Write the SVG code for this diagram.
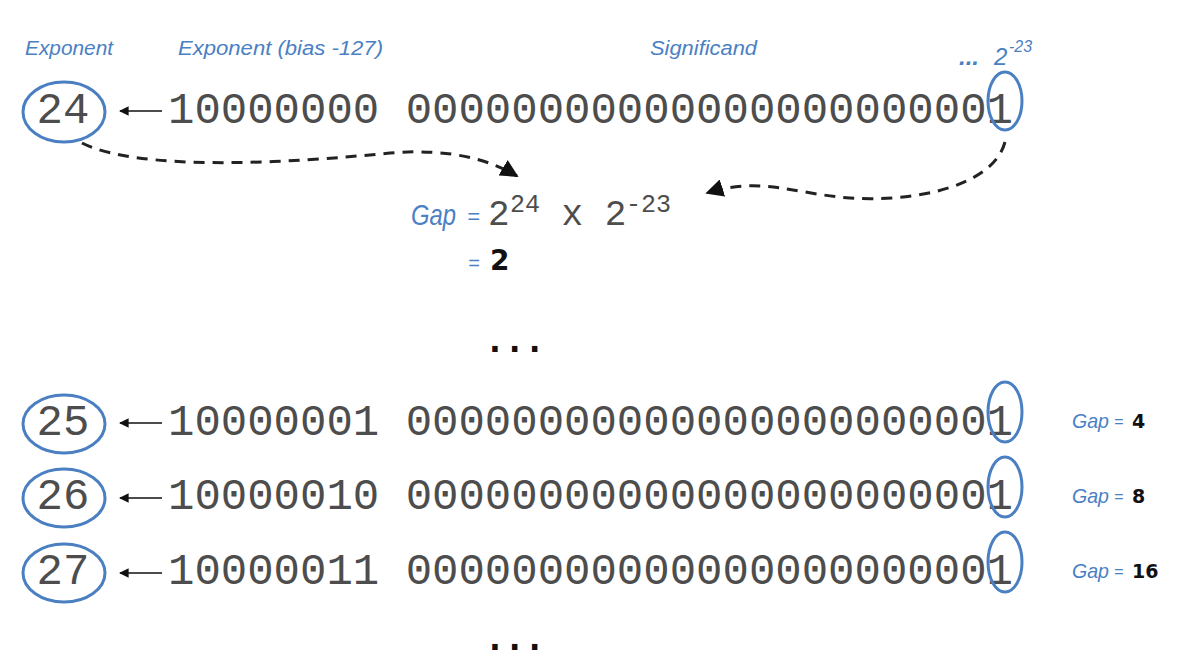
<svg xmlns="http://www.w3.org/2000/svg" width="1188" height="672" viewBox="0 0 1188 672">
<style>
.bits{font-family:"Liberation Mono","Courier New",monospace;font-size:44px;fill:#4d4d4d;}
.mono{font-family:"Liberation Mono","Courier New",monospace;fill:#4d4d4d;}
.hand{font-family:"Liberation Sans",Arial,sans-serif;font-style:italic;fill:#4a80c4;}
.num{font-family:"DejaVu Sans",Verdana,sans-serif;font-weight:bold;fill:#111;}
.dots{font-family:"DejaVu Sans Mono",monospace;font-weight:bold;font-size:33px;fill:#111;}
.ell{fill:none;stroke:#4a7fc1;stroke-width:3;}
.dash{fill:none;stroke:#222;stroke-width:3;stroke-dasharray:11 8;}
.sarrow{fill:none;stroke:#111;stroke-width:1.6;}
</style>
<defs>
<marker id="bigHead" viewBox="0 0 10 10" refX="9" refY="5" markerWidth="6" markerHeight="6" markerUnits="strokeWidth" orient="auto">
<path d="M0,0 L10,5 L0,10 z" fill="#111"/>
</marker>
</defs>
<rect width="1188" height="672" fill="#fff"/>

<g id="labels">
<text class="hand" x="25" y="55" font-size="20" textLength="88" lengthAdjust="spacingAndGlyphs">Exponent</text>
<text class="hand" x="178" y="55" font-size="20" textLength="205" lengthAdjust="spacingAndGlyphs">Exponent (bias -127)</text>
<text class="hand" x="650" y="55" font-size="20" textLength="107" lengthAdjust="spacingAndGlyphs">Significand</text>
<text class="hand" x="959" y="65" font-size="24" font-weight="bold">...</text>
<text class="hand" x="994" y="65" font-size="24">2</text>
<text class="hand" x="1009" y="52" font-size="16">-23</text>
</g>

<g id="row24">
<ellipse class="ell" cx="64" cy="112" rx="41" ry="30"/>
<text class="bits" x="63" y="123" text-anchor="middle">24</text>
<text class="bits" x="168" y="123" xml:space="preserve">10000000 00000000000000000000001</text>
<ellipse class="ell" cx="1005" cy="101" rx="17" ry="29"/>
</g>

<g id="gapFormula">
<text class="hand" x="411" y="225" font-size="29" textLength="45" lengthAdjust="spacingAndGlyphs">Gap</text>
<text class="hand" x="467" y="224" font-size="22">=</text>
<text class="mono" x="488" y="225" font-size="36">2</text>
<text class="mono" x="510" y="212" font-size="25">24</text>
<text class="mono" x="540" y="225" font-size="36" xml:space="preserve"> x 2</text>
<text class="mono" x="626" y="212" font-size="25">-23</text>
<text class="hand" x="468" y="270" font-size="20">=</text>
<text class="num" x="490" y="270" font-size="28">2</text>
</g>

<g id="ellipsis1"><text class="dots" x="485" y="352">...</text></g>

<g id="row25">
<ellipse class="ell" cx="64" cy="424" rx="41" ry="29"/>
<text class="bits" x="63" y="435" text-anchor="middle">25</text>
<text class="bits" x="168" y="435" xml:space="preserve">10000001 00000000000000000000001</text>
<ellipse class="ell" cx="1005" cy="412" rx="17" ry="30"/>
<text class="hand" x="1072" y="428" font-size="21" textLength="37" lengthAdjust="spacingAndGlyphs">Gap</text>
<text class="hand" x="1114" y="427" font-size="16">=</text>
<text class="num" x="1132" y="428" font-size="19">4</text>
</g>

<g id="row26">
<ellipse class="ell" cx="64" cy="498" rx="41" ry="29"/>
<text class="bits" x="63" y="509" text-anchor="middle">26</text>
<text class="bits" x="168" y="509" xml:space="preserve">10000010 00000000000000000000001</text>
<ellipse class="ell" cx="1005" cy="487" rx="17" ry="30"/>
<text class="hand" x="1072" y="503" font-size="21" textLength="37" lengthAdjust="spacingAndGlyphs">Gap</text>
<text class="hand" x="1114" y="502" font-size="16">=</text>
<text class="num" x="1132" y="503" font-size="19">8</text>
</g>

<g id="row27">
<ellipse class="ell" cx="64" cy="573" rx="41" ry="29"/>
<text class="bits" x="63" y="584" text-anchor="middle">27</text>
<text class="bits" x="168" y="584" xml:space="preserve">10000011 00000000000000000000001</text>
<ellipse class="ell" cx="1005" cy="562" rx="17" ry="30"/>
<text class="hand" x="1072" y="578" font-size="21" textLength="37" lengthAdjust="spacingAndGlyphs">Gap</text>
<text class="hand" x="1114" y="577" font-size="16">=</text>
<text class="num" x="1132" y="578" font-size="19">16</text>
</g>

<g id="ellipsis2"><text class="dots" x="485" y="650">...</text></g>

<g id="connectors">
<line class="sarrow" x1="162" y1="111" x2="120" y2="111" marker-end="url(#bigHead)"/>
<line class="sarrow" x1="162" y1="423" x2="120" y2="423" marker-end="url(#bigHead)"/>
<line class="sarrow" x1="162" y1="498" x2="120" y2="498" marker-end="url(#bigHead)"/>
<line class="sarrow" x1="162" y1="573" x2="120" y2="573" marker-end="url(#bigHead)"/>
<path class="dash" d="M82,143 C140,172 290,163 390,153 C450,148 490,160 517,176" marker-end="url(#bigHead)"/>
<path class="dash" d="M1005,142 C992,190 905,202 850,198 C795,194 760,176 707,193" marker-end="url(#bigHead)"/>
</g>
</svg>
